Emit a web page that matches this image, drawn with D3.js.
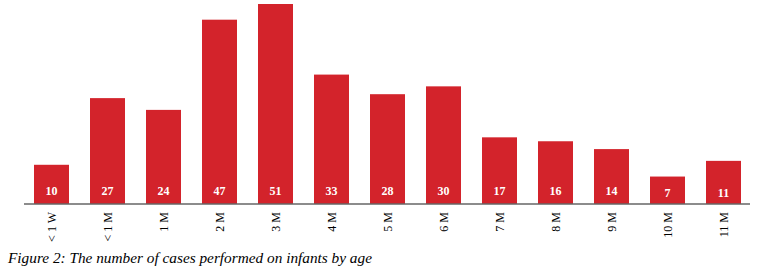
<!DOCTYPE html>
<html>
<head>
<meta charset="utf-8">
<script src="https://cdn.jsdelivr.net/npm/d3@7"></script>
<style>
  body { margin: 0; background: #fff; }
  svg { display: block; }
</style>
</head>
<body>
<svg id="chart" width="758" height="277"></svg>
<script>
// infant cases by age
const ages = ["< 1 W", "< 1 M", "1 M", "2 M", "3 M", "4 M", "5 M", "6 M", "7 M", "8 M", "9 M", "10 M", "11 M"];
const cases = [10, 27, 24, 47, 51, 33, 28, 30, 17, 16, 14, 7, 11];
const caption = "Figure 2: The number of cases performed on infants by age";

const svg = d3.select("#chart");
const baseY = 204;

const x = d3.scaleBand()
  .domain(ages)
  .range([23.5, 751.5])
  .paddingInner(0.375)
  .paddingOuter(0.1875);

const y = d3.scaleLinear()
  .domain([0, 51])
  .range([baseY, 4]);

// bars
svg.selectAll(".bar")
  .data(ages)
  .enter()
  .append("rect")
  .attr("class", "bar")
  .attr("x", d => x(d))
  .attr("y", (d, i) => y(cases[i]))
  .attr("width", x.bandwidth())
  .attr("height", (d, i) => baseY - y(cases[i]))
  .attr("fill", "#d3232b");

// value labels inside bars
svg.selectAll(".val")
  .data(ages)
  .enter()
  .append("text")
  .attr("class", "val")
  .attr("x", d => x(d) + x.bandwidth() / 2)
  .attr("y", (d, i) => cases[i] < 12 && i > 10 ? baseY - 7 : baseY - 9)
  .attr("text-anchor", "middle")
  .attr("fill", "#fff")
  .style("font-family", "'Liberation Serif', 'Times New Roman', serif")
  .style("font-weight", "bold")
  .style("font-size", "12px")
  .text((d, i) => cases[i]);

// axis line
svg.append("line")
  .attr("x1", 24)
  .attr("x2", 750)
  .attr("y1", baseY)
  .attr("y2", baseY)
  .attr("stroke", "#666")
  .attr("stroke-width", 1.5);

// rotated tick labels
svg.selectAll(".tick-label")
  .data(ages)
  .enter()
  .append("text")
  .attr("class", "tick-label")
  .attr("transform", d => `translate(${x(d) + x.bandwidth() / 2 + 4},${baseY + 8}) rotate(-90)`)
  .attr("text-anchor", "end")
  .attr("fill", "#000")
  .style("font-family", "'Liberation Serif', 'Times New Roman', serif")
  .style("font-size", "12px")
  .text(d => d);

// caption
svg.append("text")
  .attr("x", 8)
  .attr("y", 263)
  .attr("fill", "#000")
  .style("font-family", "'Liberation Serif', 'Times New Roman', serif")
  .style("font-style", "italic")
  .style("font-size", "15.3px")
  .text(caption);
</script>
</body>
</html>
